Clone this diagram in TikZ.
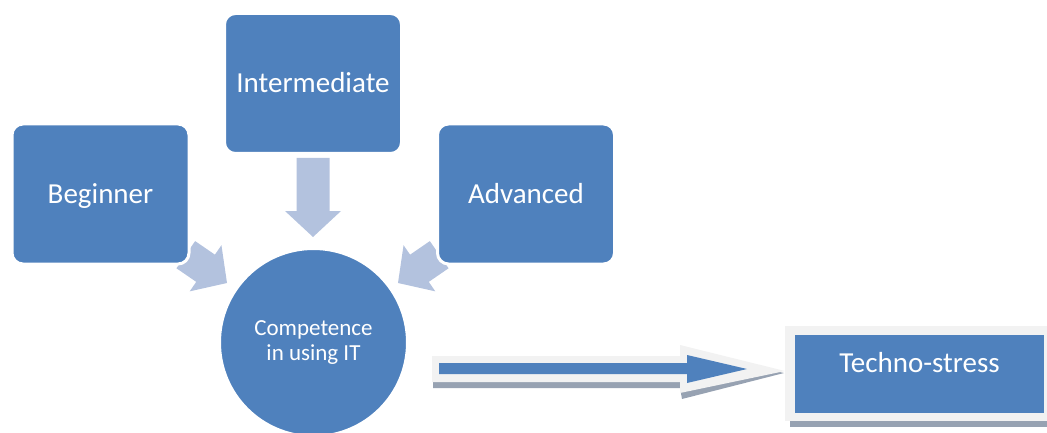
\documentclass[tikz,border=0pt]{standalone}
\usepackage{fontspec}
\setmainfont{Carlito}
\definecolor{boxblue}{HTML}{4F81BD}
\definecolor{arrowblue}{HTML}{B3C2DE}
\definecolor{paleedge}{HTML}{F2F2F2}
\definecolor{shadowgray}{HTML}{97A2B2}
\begin{document}
\begin{tikzpicture}[x=1pt,y=-1pt,
  levelbox/.style={rectangle, rounded corners=11pt, fill=boxblue, draw=white, line width=3pt,
    minimum width=177pt, minimum height=140pt, inner sep=0pt, text=white,
    font=\fontsize{29}{32}\selectfont, text height=18pt, text depth=0pt},
  compcircle/.style={circle, fill=boxblue, draw=white, line width=2pt, minimum size=187pt,
    inner sep=0pt, text=white, align=center, font=\fontsize{23}{25}\selectfont},
  outbox/.style={rectangle, fill=boxblue, minimum width=249pt, minimum height=78pt, inner sep=0pt,
    text=white, font=\fontsize{29}{32}\selectfont, text height=20pt, text depth=24pt},
  blockarrow/.style={fill=arrowblue}
]
\useasboundingbox (0,0) rectangle (1047,433);
\clip (0,0) rectangle (1047,433);

% coordinates of arrow tips
\coordinate (tipL) at (227,283);
\coordinate (tipR) at (398,283);
\coordinate (tipD) at (313,237);

% diagonal arrows (drawn under the boxes)
\fill[blockarrow, shift={(tipL)}, rotate=-34.5]
  (0,0) -- (-26,28) -- (-26,16.5) -- (-50,16.5) -- (-50,-16.5) -- (-26,-16.5) -- (-26,-28) -- cycle;
\fill[blockarrow, shift={(tipR)}, rotate=-145.5]
  (0,0) -- (-26,28) -- (-26,16.5) -- (-50,16.5) -- (-50,-16.5) -- (-26,-16.5) -- (-26,-28) -- cycle;

% level boxes
\node[levelbox] (beg) at (100.5,194) {Beginner};
\node[levelbox] (int) at (313,83.5) {Intermediate};
\node[levelbox] (adv) at (526,194) {Advanced};

% down arrow
\fill[blockarrow, shift={(tipD)}, rotate=-90]
  (0,0) -- (-26,28) -- (-26,16.5) -- (-79,16.5) -- (-79,-16.5) -- (-26,-16.5) -- (-26,-28) -- cycle;

% competence circle
\node[compcircle] (comp) at (313.5,342.5) {Competence\\in using IT};

% big arrow to techno-stress: shadow, pale outline, blue body
\fill[shadowgray] (433,362) -- (680,362) -- (682,351) -- (784,373) -- (682,399) -- (680,388) -- (433,388) -- cycle;
\fill[paleedge] (432,356) -- (680,356) -- (680,345) -- (785,371) -- (680,393) -- (680,382) -- (432,382) -- cycle;
\fill[boxblue] (439,363) -- (687,363) -- (687,355) -- (747,369) -- (687,383) -- (687,374) -- (439,374) -- cycle;

% techno-stress box
\fill[shadowgray] (790,420) rectangle (1047,427);
\fill[paleedge] (785,326) rectangle (1047,421);
\node[outbox] (ts) at (919.5,374) {Techno-stress};
\end{tikzpicture}
\end{document}
